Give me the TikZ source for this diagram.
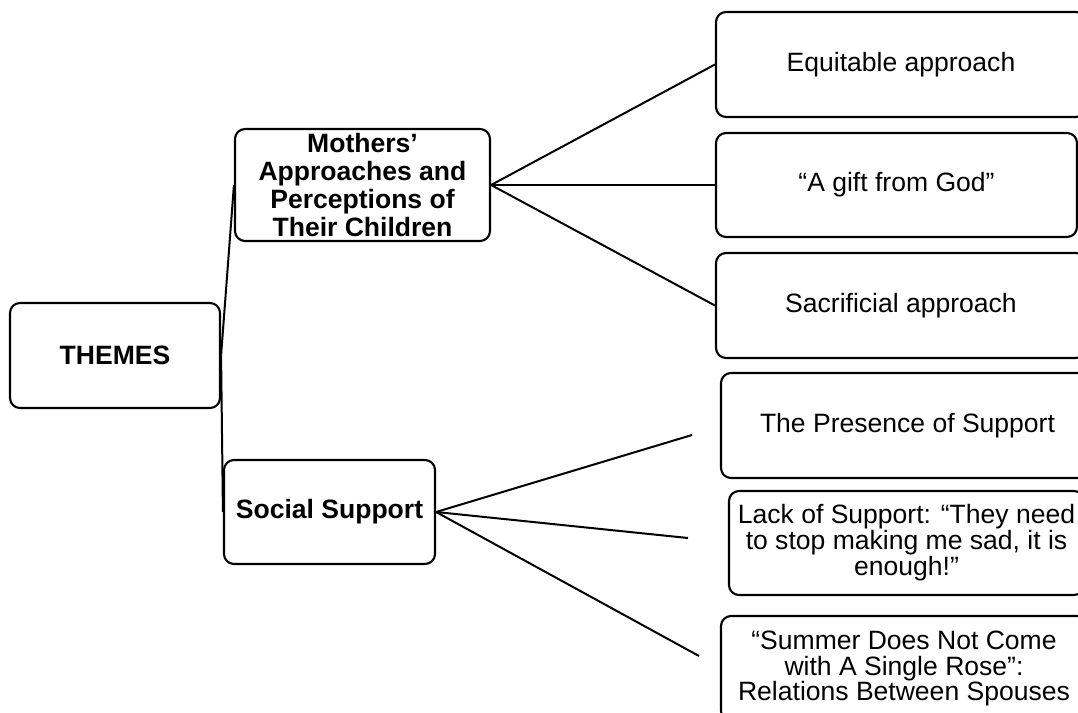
\documentclass[tikz,border=0pt]{standalone}
\usepackage{fontspec}
\setmainfont{Liberation Sans}
\usepackage{tikz}
\usetikzlibrary{positioning,calc}
\tikzstyle{box}= [draw, rounded corners=7.5pt, line width=1.6pt, align=center, inner sep=2pt, font=\fontsize{19.9pt}{19.4pt}\selectfont]
\tikzstyle{bbox}= [box, font=\fontsize{19.9pt}{21pt}\selectfont\bfseries]

\begin{document}
\begin{tikzpicture}[x=0.75pt, y=-0.75pt, line width=1.5pt]
				\useasboundingbox (0, 0) rectangle (1078, 713);
				\clip (0, 0) rectangle (1078, 713);
				\node[bbox, minimum width=157.5pt, minimum height=78.75pt] (themes) at (115, 355.5) {THEMES};
				\node[bbox, minimum width=191.25pt, minimum height=84pt] (mom) at (362.5, 185) {Mothers’\\Approaches and\\Perceptions of\\Their Children};
				\node[bbox, minimum width=158.25pt, minimum height=78pt] (social) at (329.5, 512) {Social Support};
				\node[box, minimum width=277.5pt, minimum height=78.75pt] (eq) at (901, 64.5) {Equitable approach};
				\node[box, minimum width=270.75pt, minimum height=78pt] (gift) at (896.5, 185) {“A gift from God”};
				\node[box, minimum width=277.5pt, minimum height=78.75pt] (sac) at (901, 305.5) {Sacrificial approach};
				\node[box, minimum width=279.75pt, minimum height=78.75pt] (pres) at (907.5, 425.5) {The Presence of Support};
				\node[box, minimum width=266.25pt, minimum height=78pt] (lack) at (906.5, 543) {Lack of Support: “They need\\to stop making me sad, it is\\enough!”};
				\node[box, minimum width=274.5pt, minimum height=78.75pt] (summer) at (904, 668.5) {“Summer Does Not Come\\with A Single Rose”:\\Relations Between Spouses};
				\coordinate (s1) at (692, 435);
				\coordinate (s2) at (688, 538);
				\coordinate (s3) at (699, 656);
				\draw(themes.east) -- (mom.west);
				\draw(themes.east) -- (social.west);
				\draw(mom.east) -- (eq.west);
				\draw(mom.east) -- (gift.west);
				\draw(mom.east) -- (sac.west);
				\draw(social.east) -- (s1);
				\draw(social.east) -- (s2);
				\draw(social.east) -- (s3);
			\end{tikzpicture}
\end{document}
